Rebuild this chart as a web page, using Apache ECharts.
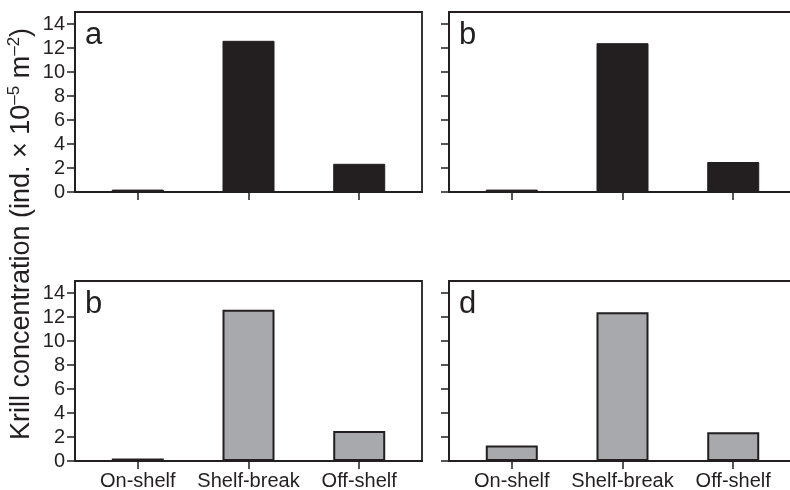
<!DOCTYPE html>
<html>
<head>
<meta charset="utf-8">
<script src="https://cdn.jsdelivr.net/npm/echarts@6/dist/echarts.min.js"></script>
<style>
html,body{margin:0;padding:0;background:#fff;}
#chart{width:790px;height:490px;}
</style>
</head>
<body>
<div id="chart"></div>
<script>
const categories = ['On-shelf', 'Shelf-break', 'Off-shelf'];
const panelA = [0.2, 12.6, 2.35];
const panelB = [0.2, 12.4, 2.5];
const panelC = [0.2, 12.6, 2.5];
const panelD = [1.3, 12.4, 2.4];
const yTicks = [0, 2, 4, 6, 8, 10, 12, 14];
const panelLetters = ['a', 'b', 'b', 'd'];

const FONT = '"Liberation Sans", Arial, Helvetica, sans-serif';
const INK = '#231f20';
const GRAY = '#a7a9ac';

const panels = [
  { data: panelA, left: 75, top: 12, showY: true, showX: false, fill: INK, bw: 1 },
  { data: panelB, left: 449, top: 12, showY: false, showX: false, fill: INK, bw: 1 },
  { data: panelC, left: 75, top: 281, showY: true, showX: true, fill: GRAY, bw: 2 },
  { data: panelD, left: 449, top: 281, showY: false, showX: true, fill: GRAY, bw: 2 }
];
const catIdx = categories.map((c, i) => i);

const grid = [], xAxis = [], yAxis = [], series = [], graphic = [];
panels.forEach((p, i) => {
  grid.push({
    left: p.left, top: p.top, width: 347, height: 180,
    outerBoundsMode: 'none', containLabel: false,
    show: true, borderColor: INK, borderWidth: 1.8, backgroundColor: 'transparent'
  });
  xAxis.push({
    gridIndex: i, type: 'value', min: -0.567, max: 2.567,
    axisLine: { show: true, onZero: false, lineStyle: { color: INK, width: 1.8 } },
    axisTick: { show: true, length: 8, lineStyle: { color: INK, width: 1.5 }, customValues: catIdx },
    axisLabel: {
      show: p.showX, customValues: catIdx, margin: 10,
      fontFamily: FONT, fontSize: 20, color: INK,
      formatter: v => categories[Math.round(v)]
    },
    splitLine: { show: false }
  });
  yAxis.push({
    gridIndex: i, type: 'value', min: 0, max: 15,
    axisLine: { show: true, onZero: false, lineStyle: { color: INK, width: 1.8 } },
    axisTick: { show: true, length: 8, lineStyle: { color: INK, width: 1.5 }, customValues: yTicks },
    axisLabel: {
      show: p.showY, customValues: yTicks, margin: 10,
      fontFamily: FONT, fontSize: 20, color: INK
    },
    splitLine: { show: false }
  });
  series.push({
    type: 'bar', xAxisIndex: i, yAxisIndex: i, barWidth: 52,
    data: p.data.map((v, k) => [catIdx[k], v]),
    itemStyle: { color: p.fill, borderColor: INK, borderWidth: p.bw }
  });
  graphic.push({
    type: 'text', left: p.left + 10, top: p.top + 8,
    style: { text: panelLetters[i], fontFamily: FONT, fontSize: 31, fill: INK }
  });
});

graphic.push({
  type: 'text', x: 22, y: 234, rotation: Math.PI / 2,
  style: {
    text: '{t|Krill concentration (ind. × 10}{s|–5}{t| m}{s|–2}{t|)}',
    align: 'center', verticalAlign: 'middle',
    fill: INK, fontFamily: FONT,
    rich: {
      t: { fontSize: 27, lineHeight: 32, fontFamily: FONT, fill: INK, color: INK },
      s: { fontSize: 17, lineHeight: 17, verticalAlign: 'top', fontFamily: FONT, fill: INK, color: INK }
    }
  }
});

const chart = echarts.init(document.getElementById('chart'), null, { renderer: 'canvas' });
chart.setOption({
  animation: false,
  backgroundColor: '#ffffff',
  grid, xAxis, yAxis, series, graphic
});
</script>
</body>
</html>
